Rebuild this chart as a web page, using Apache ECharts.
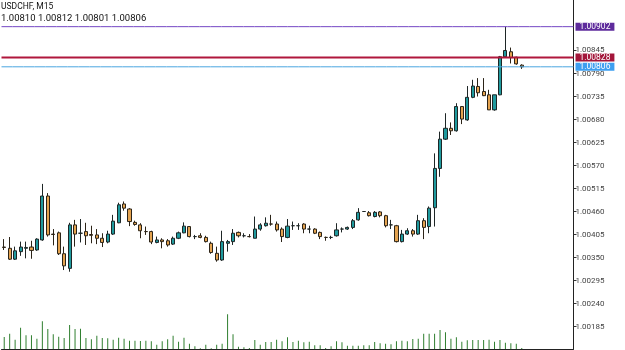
<!DOCTYPE html>
<html><head><meta charset="utf-8">
<script src="https://cdn.jsdelivr.net/npm/echarts@6/dist/echarts.min.js"></script>
<style>html,body{margin:0;padding:0;background:#fff}#c{width:625px;height:350px}</style>
</head><body><div id="c"></div><script>
const symbol = 'USDCHF';
const timeframe = 'M15';
const open = [1.00375,1.00372,1.00346,1.00364,1.00372,1.00375,1.00368,1.00392,1.00497,1.00406,
1.00409,1.00359,1.00324,1.00428,1.00408,1.00412,1.00405,1.00404,1.00396,1.00387,
1.00406,1.00433,1.00478,1.00466,1.00434,1.00428,1.00412,1.00412,1.00386,1.00392,
1.00390,1.00382,1.00396,1.00409,1.00424,1.00400,1.00402,1.00398,1.00384,1.00360,
1.00344,1.00384,1.00388,1.00410,1.00402,1.00400,1.00396,1.00418,1.00426,1.00430,
1.00430,1.00418,1.00398,1.00426,1.00426,1.00430,1.00418,1.00418,1.00410,1.00398,
1.00398,1.00402,1.00418,1.00418,1.00422,1.00440,1.00460,1.00457,1.00448,1.00459,
1.00450,1.00428,1.00426,1.00388,1.00406,1.00414,1.00406,1.00438,1.00424,1.00469,
1.00563,1.00633,1.00659,1.00653,1.00711,1.00679,1.00733,1.00759,1.00747,1.00739,
1.00703,1.00739,1.00830,1.00842,1.00829,1.00810];
const close = [1.00374,1.00346,1.00366,1.00375,1.00374,1.00367,1.00394,1.00497,1.00404,1.00405,
1.00359,1.00330,1.00428,1.00406,1.00408,1.00402,1.00403,1.00396,1.00386,1.00406,
1.00437,1.00476,1.00468,1.00436,1.00429,1.00414,1.00412,1.00387,1.00392,1.00388,
1.00380,1.00396,1.00409,1.00425,1.00400,1.00400,1.00398,1.00388,1.00362,1.00344,
1.00388,1.00388,1.00408,1.00402,1.00402,1.00400,1.00418,1.00428,1.00432,1.00430,
1.00416,1.00400,1.00425,1.00426,1.00426,1.00418,1.00418,1.00408,1.00400,1.00398,
1.00398,1.00416,1.00418,1.00422,1.00438,1.00458,1.00460,1.00450,1.00458,1.00450,
1.00426,1.00428,1.00388,1.00406,1.00414,1.00406,1.00438,1.00422,1.00468,1.00563,
1.00633,1.00659,1.00653,1.00711,1.00681,1.00733,1.00760,1.00744,1.00737,1.00703,
1.00739,1.00830,1.00845,1.00828,1.00813,1.00806];
const low = [1.00368,1.00344,1.00344,1.00354,1.00348,1.00347,1.00366,1.00390,1.00400,1.00379,
1.00356,1.00320,1.00316,1.00376,1.00386,1.00380,1.00384,1.00382,1.00375,1.00384,
1.00404,1.00432,1.00462,1.00425,1.00426,1.00396,1.00404,1.00382,1.00384,1.00372,
1.00376,1.00380,1.00394,1.00408,1.00398,1.00394,1.00396,1.00386,1.00359,1.00340,
1.00342,1.00364,1.00380,1.00398,1.00398,1.00398,1.00396,1.00414,1.00424,1.00426,
1.00412,1.00387,1.00396,1.00416,1.00416,1.00408,1.00408,1.00406,1.00394,1.00390,
1.00394,1.00400,1.00410,1.00416,1.00418,1.00438,1.00459,1.00448,1.00446,1.00446,
1.00422,1.00418,1.00386,1.00386,1.00404,1.00400,1.00404,1.00394,1.00408,1.00424,
1.00543,1.00631,1.00643,1.00651,1.00669,1.00677,1.00731,1.00735,1.00736,1.00703,
1.00701,1.00738,1.00830,1.00814,1.00811,1.00801];
const high = [1.00394,1.00399,1.00376,1.00388,1.00388,1.00390,1.00396,1.00526,1.00504,1.00418,
1.00412,1.00376,1.00433,1.00440,1.00442,1.00433,1.00426,1.00418,1.00408,1.00414,
1.00452,1.00481,1.00484,1.00468,1.00438,1.00432,1.00424,1.00414,1.00400,1.00396,
1.00394,1.00400,1.00412,1.00434,1.00425,1.00404,1.00408,1.00402,1.00388,1.00376,
1.00414,1.00392,1.00418,1.00412,1.00408,1.00406,1.00448,1.00432,1.00446,1.00452,
1.00436,1.00422,1.00442,1.00436,1.00432,1.00432,1.00426,1.00420,1.00412,1.00400,
1.00402,1.00432,1.00422,1.00424,1.00442,1.00468,1.00461,1.00461,1.00461,1.00461,
1.00452,1.00440,1.00428,1.00416,1.00420,1.00418,1.00452,1.00444,1.00472,1.00599,
1.00651,1.00695,1.00673,1.00719,1.00712,1.00760,1.00775,1.00779,1.00779,1.00751,
1.00739,1.00832,1.00902,1.00852,1.00830,1.00812];
const volume = [120,153,93,213,137,137,103,277,200,147,
123,110,240,200,203,110,97,133,110,107,
93,113,103,83,83,80,83,77,43,77,
97,133,73,113,53,27,7,43,7,43,
53,347,147,23,17,10,90,43,70,70,
93,77,117,70,83,67,73,37,37,10,
27,77,67,33,33,33,37,37,70,57,
53,47,77,83,77,100,103,153,153,153,
190,167,103,117,73,87,90,90,90,93,
73,90,63,57,53,10];
const priceTicks = [1.00185,1.00240,1.00295,1.00350,1.00405,1.00460,1.00515,1.00570,1.00625,1.00680,1.00735,1.00790,1.00845];
const levelValues = [1.00902, 1.00828, 1.00806];

const emptySlots = 9;
const categories = open.map((_, i) => String(i + 1));
for (let k = 0; k < emptySlots; k++) categories.push('');
const ohlc = open.map((o, i) => [o, close[i], low[i], high[i]]);
const last = open.length - 1;
const subtitle = [open[last], high[last], low[last], close[last]].map(v => v.toFixed(5)).join(' ');

const levelStyles = [
  {line: '#7446c4', tag: '#5e2b9c', width: 1},
  {line: '#b0173c', tag: '#a3163a', width: 2},
  {line: '#4aa6e0', tag: '#3d9ff0', width: 1}
];

const levelSeries = levelValues.map((v, i) => ({
  type: 'line', xAxisIndex: 0, yAxisIndex: 0, z: 5, silent: true,
  symbol: 'none', clip: false,
  data: categories.map(() => v),
  lineStyle: {color: levelStyles[i].line, width: levelStyles[i].width},
  endLabel: {show: true, distance: 2, color: '#fff', fontSize: 8.5, fontFamily: 'Roboto',
             backgroundColor: levelStyles[i].tag, padding: [0, 4, 0, 4], lineHeight: 8,
             formatter: () => v.toFixed(5)}
}));

const chart = echarts.init(document.getElementById('c'), null, {renderer: 'canvas'});
chart.setOption({
  animation: false,
  backgroundColor: '#ffffff',
  title: {
    text: symbol + ', ' + timeframe,
    subtext: subtitle,
    left: 0, top: 2, padding: [0, 1], itemGap: 3,
    textStyle: {fontSize: 8.5, fontWeight: 'normal', color: '#111', fontFamily: 'Roboto'},
    subtextStyle: {fontSize: 9.5, color: '#111', fontFamily: 'Roboto'}
  },
  grid: [
    {left: 1.5, right: 51.5, top: 0, height: 349},
    {left: 1.5, right: 51.5, bottom: 1, height: 100}
  ],
  xAxis: [
    {type: 'category', gridIndex: 0, data: categories, boundaryGap: false,
     axisLine: {show: false}, axisTick: {show: false}, axisLabel: {show: false}, splitLine: {show: false}},
    {type: 'category', gridIndex: 1, data: categories, boundaryGap: true,
     axisLine: {show: true, lineStyle: {color: '#222', width: 1}}, axisTick: {show: false}, axisLabel: {show: false}, splitLine: {show: false}},
    {type: 'category', gridIndex: 0, data: categories, boundaryGap: true, show: false}
  ],
  yAxis: [
    {type: 'value', gridIndex: 0, position: 'right', min: 1.001312, max: 1.0096576,
     splitLine: {show: false},
     axisLine: {show: true, lineStyle: {color: '#222', width: 1}},
     axisTick: {show: true, length: 3, customValues: priceTicks, lineStyle: {color: '#333'}},
     axisLabel: {show: true, customValues: priceTicks, formatter: v => v.toFixed(5), fontSize: 8, color: '#444', margin: 2, fontFamily: 'Roboto'}},
    {type: 'value', gridIndex: 1, min: 0, max: 1000, show: false}
  ],
  series: [
    {type: 'bar', xAxisIndex: 1, yAxisIndex: 1, data: volume, barWidth: 1,
     itemStyle: {color: '#2f7f2f'}, silent: true, z: 1},
    {type: 'candlestick', xAxisIndex: 2, yAxisIndex: 0, data: ohlc, barWidth: 3.6, z: 3,
     itemStyle: {color: '#1f9a9e', color0: '#e4a350', borderColor: '#1e2626', borderColor0: '#2c2418', borderWidth: 1}}
  ].concat(levelSeries)
});
</script></body></html>
